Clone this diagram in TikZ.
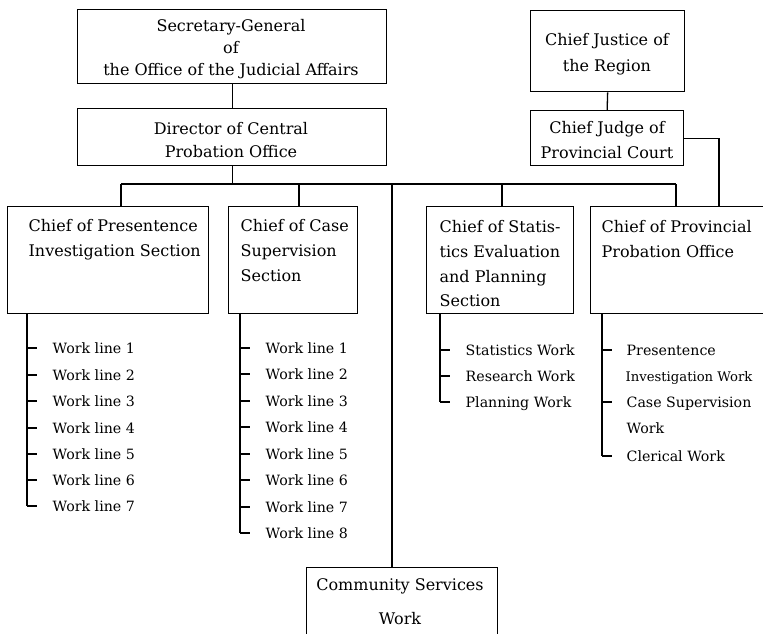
\documentclass[tikz,border=0pt]{standalone}
\usepackage{fontspec}
\setmainfont{DejaVu Serif}
\usetikzlibrary{calc}
\begin{document}
\begin{tikzpicture}[x=1pt,y=-1pt,
  line width=1.3pt,
  box/.style={draw, rectangle, inner sep=0pt, anchor=north west},
  txt/.style={inner sep=0pt, anchor=base, font=\fontsize{16}{18}\selectfont},
  ltxt/.style={inner sep=0pt, anchor=base west, font=\fontsize{16}{18}\selectfont},
  wtxt/.style={inner sep=0pt, anchor=base west, font=\fontsize{14.2}{16}\selectfont},
]
\useasboundingbox (0,0) rectangle (763,634);
\clip (0,0) rectangle (763,634);
% boxes
\node[box, minimum width=309, minimum height=74] (sg) at (77,9) {};
\node[box, minimum width=309, minimum height=57] (dir) at (77,108) {};
\node[box, minimum width=154, minimum height=81] (cj) at (530,10) {};
\node[box, minimum width=153, minimum height=55] (jd) at (530,110) {};
\node[box, minimum width=201, minimum height=107] (s1) at (7,206) {};
\node[box, minimum width=129, minimum height=107] (s2) at (228,206) {};
\node[box, minimum width=147, minimum height=107] (s3) at (426,206) {};
\node[box, minimum width=190, minimum height=107] (s4) at (590,206) {};
\node[box, minimum width=191, minimum height=100] (cs) at (306,567) {};
% box texts
\node[txt] (sg1) at (231,32) {Secretary-General};
\node[txt] (sg2) at (231,54) {of};
\node[txt] (sg3) at (231,76) {the Office of the Judicial Affairs};
\node[txt] (dir1) at (231,134) {Director of Central};
\node[txt] (dir2) at (231,157) {Probation Office};
\node[txt] (cj1) at (607,46) {Chief Justice of};
\node[txt] (cj2) at (607,71) {the Region};
\node[txt] (jd1) at (607,133) {Chief Judge of};
\node[txt] (jd2) at (607,158) {Provincial Court};
\node[ltxt] (s1a) at (28,231) {Chief of Presentence};
\node[ltxt] (s1b) at (28,256) {Investigation Section};
\node[ltxt] (s2a) at (240,231) {Chief of Case};
\node[ltxt] (s2b) at (240,256) {Supervision};
\node[ltxt] (s2c) at (240,281) {Section};
\node[ltxt] (s3a) at (439,232) {Chief of Statis-};
\node[ltxt] (s3b) at (439,257) {tics Evaluation};
\node[ltxt] (s3c) at (439,282) {and Planning};
\node[ltxt] (s3d) at (439,306) {Section};
\node[ltxt] (s4a) at (601,232) {Chief of Provincial};
\node[ltxt] (s4b) at (601,257) {Probation Office};
\node[txt] (cs1) at (400,590) {Community Services};
\node[txt] (cs2) at (400,624) {Work};
% connectors
\coordinate (busL) at (121,184);
\coordinate (b2) at (299,184);
\coordinate (b3) at (392,184);
\coordinate (b4) at (502,184);
\coordinate (busR) at (676,184);
\coordinate (jr) at (719,0);
\draw (sg.south) -- (dir.north);
\draw (cj.south) -- (jd.north);
\draw (dir.south) -- (dir.south |- busL);
\draw (busL) -- (busR);
\draw (busL) -- (busL |- s1.north);
\draw (b2) -- (b2 |- s2.north);
\draw (b3) -- (b3 |- cs.north);
\draw (b4) -- (b4 |- s3.north);
\draw (busR) -- (busR |- s4.north);
\draw (jd.east) -| (s4.north -| jr);
% work lists, section 1
\foreach \i/\y in {1/348,2/375,3/401,4/428,5/454,6/480,7/506} {
  \node[wtxt] (wa\i) at (52,\y+5) {Work line \i};
  \draw (27,\y) -- ++(10,0);
}
\draw (s1.south -| 27,0) -- (27,506);
% section 2
\foreach \i/\y in {1/348,2/374,3/401,4/427,5/454,6/480,7/507,8/533} {
  \node[wtxt] (wb\i) at (265,\y+5) {Work line \i};
  \draw (240,\y) -- ++(10,0);
}
\draw (s2.south -| 240,0) -- (240,533);
% section 3
\node[wtxt] (wc1) at (465,355) {Statistics Work};
\node[wtxt] (wc2) at (465,381) {Research Work};
\node[wtxt] (wc3) at (465,407) {Planning Work};
\foreach \y in {350,376,402} { \draw (440,\y) -- ++(10,0); }
\draw (s3.south -| 440,0) -- (440,402);
% section 4
\node[wtxt] (wd1) at (626,355) {Presentence};
\node[wtxt, font=\fontsize{13.2}{16}\selectfont] (wd2) at (625,381) {Investigation Work};
\node[wtxt] (wd3) at (626,407) {Case Supervision};
\node[wtxt] (wd4) at (626,433) {Work};
\node[wtxt] (wd5) at (626,461) {Clerical Work};
\foreach \y in {350,402,456} { \draw (602,\y) -- ++(10,0); }
\draw (s4.south -| 602,0) -- (602,456);
\end{tikzpicture}
\end{document}
